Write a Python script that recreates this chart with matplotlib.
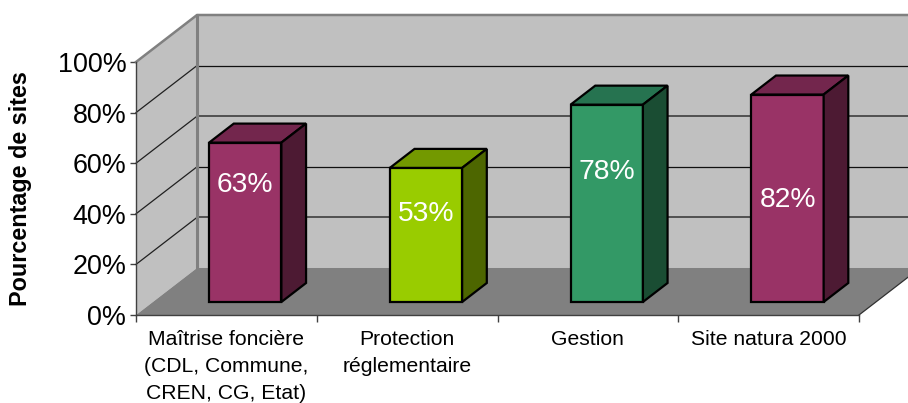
import matplotlib
matplotlib.use("Agg")
import matplotlib.pyplot as plt
from matplotlib.patches import Polygon
from matplotlib.ticker import FuncFormatter

plt.rcParams['font.family'] = ['Liberation Sans', 'DejaVu Sans']

# Data
categories = ["Maîtrise foncière\n(CDL, Commune,\nCREN, CG, Etat)",
              "Protection\nréglementaire",
              "Gestion",
              "Site natura 2000"]
values = [63, 53, 78, 82]
value_label_heights = [52.2, 40.7, 57.3, 46.2]
front_colors = ['#993366', '#99CC00', '#339966', '#993366']
top_colors = ['#73264D', '#739900', '#267350', '#73264D']
side_colors = ['#4D1A33', '#4D6600', '#1A4D33', '#4D1A33']
y_ticks = [0, 20, 40, 60, 80, 100]

# Back wall gridlines: the 20 and 60 lines come out heavier and greyer
back_grid_colors = {20: '#505050', 40: '#101010', 60: '#505050', 80: '#101010'}
back_grid_widths = {20: 1.4, 40: 0.9, 60: 1.4, 80: 0.9}

# 3D look: how far one unit of depth shifts a point on screen (data units)
depth_x = 0.3375
depth_y = 18.58
bar_width = 0.40
bar_center_shift = 0.511
bar_depth_start = 0.277
bar_depth_end = 0.681

W, H = 908, 403
left, right, bottom, top = 136, 859, 315, 62

fig = plt.figure(figsize=(W / 100, H / 100), dpi=100, facecolor='white')
ax = fig.add_axes([left / W, 1 - bottom / H, (right - left) / W, (bottom - top) / H])
ax.set_xlim(0, len(categories))
ax.set_ylim(0, 100)
ax.patch.set_visible(False)


# Move a point from the front plane towards the back wall
def project(x, y, d):
    return (x + d * depth_x, y + d * depth_y)


# Draw a flat polygon that may run past the axes
def face(points, color, edge='none', lw=0, z=1):
    ax.add_patch(Polygon(points, closed=True, facecolor=color, edgecolor=edge,
                         linewidth=lw, clip_on=False, zorder=z, joinstyle='miter'))


n = len(categories)

# Walls and floor
face([project(0, 0, 0), project(0, 0, 1), project(0, 100, 1), project(0, 100, 0)], '#C0C0C0')
face([project(0, 0, 1), project(n, 0, 1), project(n, 100, 1), project(0, 100, 1)], '#C0C0C0')
face([project(0, 0, 0), project(n, 0, 0), project(n, 0, 1), project(0, 0, 1)], '#808080')

# Gridlines on the left and back walls
for t in y_ticks[1:-1]:
    a, b, c = project(0, t, 0), project(0, t, 1), project(n, t, 1)
    ax.plot([a[0], b[0]], [a[1], b[1]], color='#202020', lw=0.9, clip_on=False, zorder=2)
    ax.plot([b[0], c[0]], [b[1], c[1]], color=back_grid_colors[t], lw=back_grid_widths[t],
            clip_on=False, zorder=2)

# Wall outlines
a, b, c = project(0, 100, 0), project(0, 100, 1), project(n, 100, 1)
ax.plot([a[0], b[0], c[0]], [a[1], b[1], c[1]], color='#808080', lw=1.8, clip_on=False, zorder=2)
a = project(0, 0, 1)
ax.plot([a[0], b[0]], [a[1], b[1]], color='#808080', lw=2.2, clip_on=False, zorder=2.1)
a, b = project(n, 0, 0), project(n, 0, 1)
ax.plot([a[0], b[0]], [a[1], b[1]], color='#303030', lw=0.9, clip_on=False, zorder=2)

# Bars
for i, v in enumerate(values):
    x0 = i + bar_center_shift - bar_width / 2
    x1 = i + bar_center_shift + bar_width / 2
    d0, d1 = bar_depth_start, bar_depth_end
    face([project(x0, 0, d0), project(x1, 0, d0), project(x1, v, d0), project(x0, v, d0)],
         front_colors[i], 'black', 1.6, 3)
    face([project(x0, v, d0), project(x1, v, d0), project(x1, v, d1), project(x0, v, d1)],
         top_colors[i], 'black', 1.6, 3)
    face([project(x1, 0, d0), project(x1, 0, d1), project(x1, v, d1), project(x1, v, d0)],
         side_colors[i], 'black', 1.6, 3)
    lx, ly = project(i + bar_center_shift, value_label_heights[i], d0)
    ax.text(lx, ly - d0 * depth_y - 0.8, f"{v}%", color='white', fontsize=20.3,
            ha='center', va='center', zorder=4)

# Axes
for s in ['top', 'right']:
    ax.spines[s].set_visible(False)
for s in ['left', 'bottom']:
    ax.spines[s].set_color('#404040')
    ax.spines[s].set_linewidth(1.0)
    ax.spines[s].set_zorder(2.5)

ax.set_yticks(y_ticks)
ax.yaxis.set_major_formatter(FuncFormatter(lambda t, _: f"{t:.0f}%"))
ax.tick_params(axis='y', labelsize=19.4, length=4, width=1, color='#404040', pad=3)
ax.set_ylabel("Pourcentage de sites", fontsize=16.8, fontweight='bold')
ax.yaxis.set_label_coords(-104 / (right - left), 0.5)

ax.set_xticks(range(n + 1))
ax.set_xticklabels([])
ax.set_xticks([i + 0.5 for i in range(n)], labels=categories, minor=True)
ax.tick_params(axis='x', which='major', length=5, width=1, color='#404040')
ax.tick_params(axis='x', which='minor', length=0, labelsize=15.2, pad=11)
for lab in ax.get_xticklabels(minor=True):
    lab.set_linespacing(1.54)

fig.savefig('out.png', dpi=100)
